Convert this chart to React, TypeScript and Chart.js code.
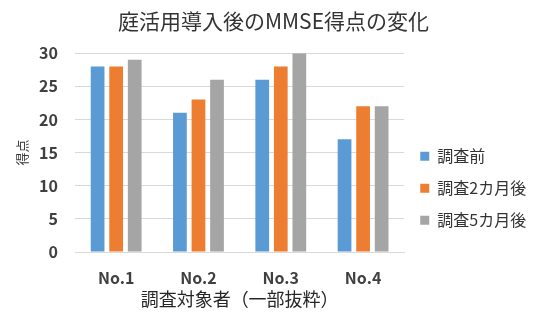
import React, { useEffect, useRef } from "react";
import { Chart, registerables } from "chart.js";

Chart.register(...registerables);

const categories = ["No.1", "No.2", "No.3", "No.4"];
const seriesNames = ["調査前", "調査2カ月後", "調査5カ月後"];
const before = [28, 21, 26, 17];
const after2 = [28, 23, 28, 22];
const after5 = [29, 26, 30, 22];
const colors = ["#5B9BD5", "#ED7D31", "#A5A5A5"];

const titleText = "庭活用導入後のMMSE得点の変化";
const xTitle = "調査対象者（一部抜粋）";
const yTitle = "得点";

const FONT = "'Noto Sans CJK JP', 'Noto Sans', sans-serif";

export default function App() {
  const ref = useRef<HTMLCanvasElement>(null);
  useEffect(() => {
    if (!ref.current) return;
    const values = [before, after2, after5];
    const chart = new Chart(ref.current, {
      type: "bar",
      data: {
        labels: categories,
        datasets: seriesNames.map((name, i) => ({
          label: name,
          data: values[i],
          backgroundColor: colors[i],
          borderWidth: 0,
          categoryPercentage: 0.676,
          barPercentage: 0.74,
        })),
      },
      options: {
        animation: false,
        responsive: true,
        maintainAspectRatio: false,
        layout: { padding: { top: 0, right: 0, bottom: 0, left: 4 } },
        plugins: {
          title: {
            display: true,
            text: titleText,
            color: "#333333",
            font: { family: FONT, size: 21, weight: "normal" },
            padding: { top: 0, bottom: 20 },
          },
          legend: {
            position: "right",
            align: "center",
            title: { display: true, text: "", padding: { top: 44, bottom: 0 } },
            labels: {
              boxWidth: 9,
              boxHeight: 9,
              padding: 16,
              color: "#333333",
              font: { family: FONT, size: 16 },
            },
          },
          tooltip: { enabled: false },
        },
        scales: {
          x: {
            afterFit: (scale: any) => {
              scale.height = 58;
            },
            grid: { display: false },
            border: { display: true, color: "#d9d9d9" },
            ticks: { color: "#404040", padding: 8, font: { family: FONT, size: 16, weight: "bold" } },
            title: {
              display: true,
              text: xTitle,
              color: "#262626",
              font: { family: FONT, size: 18 },
              padding: { top: 0, bottom: 0 },
            },
          },
          y: {
            min: 0,
            max: 30,
            afterFit: (scale: any) => {
              scale.width = 63;
            },
            ticks: { stepSize: 5, color: "#404040", font: { family: FONT, size: 16, weight: "bold" }, padding: 17 },
            grid: { color: "#d9d9d9", drawTicks: false },
            border: { display: false },
            title: {
              display: true,
              text: yTitle,
              color: "#333333",
              font: { family: FONT, size: 13 },
              padding: { top: 2, bottom: 10 },
            },
          },
        },
      },
    });
    return () => chart.destroy();
  }, []);
  return (
    <div style={{ width: 527, height: 302, position: "relative" }}>
      <canvas ref={ref} />
    </div>
  );
}
